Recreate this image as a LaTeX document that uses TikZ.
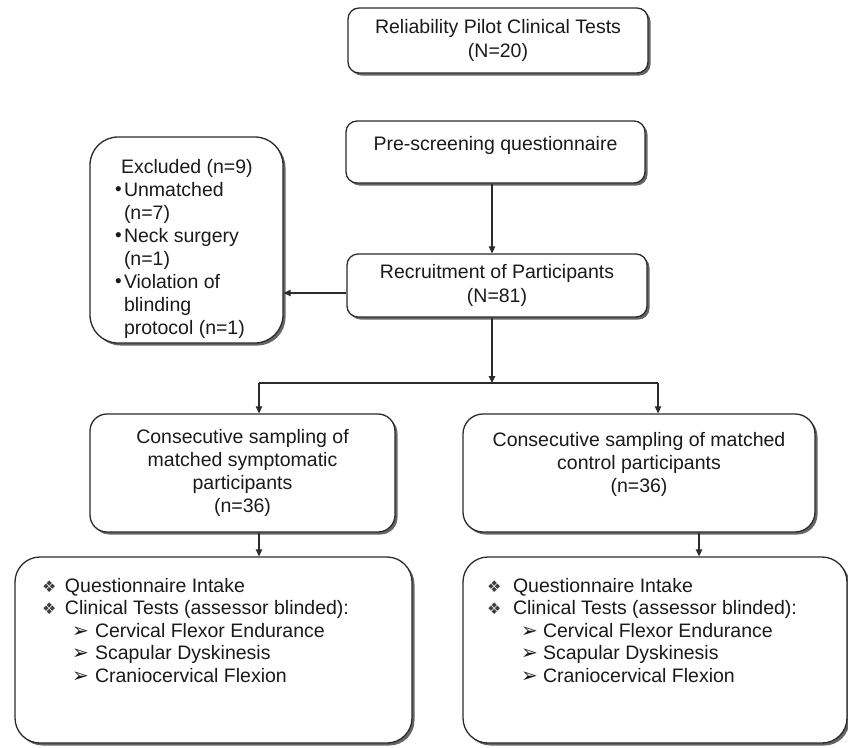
\documentclass[tikz,border=0pt]{standalone}
\usepackage{fontspec}
\setmainfont{Liberation Sans}
\newfontfamily\symfont{DejaVu Sans}
\usetikzlibrary{shadows,arrows.meta}
\definecolor{lncol}{HTML}{2B2B2B}
\definecolor{txcol}{HTML}{1A1A1A}
\newcommand\mydia{{\symfont\fontsize{16}{16}\selectfont\color{black!75}❖}}
\newcommand\myarr{{\symfont\fontsize{20}{20}\selectfont ➢}}
\newcommand\smbul{\raisebox{0.5pt}{\fontsize{19}{19}\selectfont\textbullet}}
\tikzset{
 box/.style={draw=lncol, line width=1.3pt, fill=white, inner sep=0pt, rounded corners=#1,
   drop shadow={shadow xshift=2.5pt, shadow yshift=-2.5pt, fill=black!60, opacity=1},
   font=\fontsize{19.5}{24}\selectfont, text=txcol},
 box/.default=11pt,
 arr/.style={draw=lncol, line width=1.2pt, -{Triangle[length=7pt,width=6.5pt]}},
 plain/.style={draw=lncol, line width=1.2pt}
}
\begin{document}
\begin{tikzpicture}[x=1pt,y=-1pt]
\useasboundingbox (0,0) rectangle (848,747);

\node[box, align=center, minimum width=300pt, minimum height=65pt] (pilot) at (498,40.5)
  {Reliability Pilot Clinical Tests\\(N=20)};

\node[box, minimum width=299pt, minimum height=62pt] (pre) at (495.5,152)
  {\parbox[c][62pt][t]{299pt}{\centering\rule{0pt}{29pt}Pre-screening questionnaire}};

\node[box, align=center, minimum width=300pt, minimum height=63pt] (rec) at (497,285.5)
  {Recruitment of Participants\\(N=81)};

\node[box=28pt, minimum width=193pt, minimum height=206pt] (excl) at (186.5,240)
  {\parbox[c][206pt][t]{193pt}{\fontsize{19.5}{23}\selectfont\raggedright
   \rule{0pt}{36pt}\hspace*{31pt}Excluded (n=9)\\
   \hspace*{25pt}\makebox[9pt][l]{\smbul}Unmatched\\
   \hspace*{34pt}(n=7)\\
   \hspace*{25pt}\makebox[9pt][l]{\smbul}Neck surgery\\
   \hspace*{34pt}(n=1)\\
   \hspace*{25pt}\makebox[9pt][l]{\smbul}Violation of\\
   \hspace*{34pt}blinding\\
   \hspace*{34pt}protocol (n=1)}};

\node[box=17pt, align=center, minimum width=305pt, minimum height=118pt,
  font=\fontsize{19.5}{23}\selectfont] (lft) at (242.5,473)
  {Consecutive sampling of\\matched symptomatic\\participants\\(n=36)};

\node[box=20pt, minimum width=352pt, minimum height=118pt] (rgt) at (639,473)
  {\parbox[c][118pt][t]{352pt}{\fontsize{19.5}{23}\selectfont\centering
   \rule{0pt}{32pt}Consecutive sampling of matched\\control participants\\(n=36)}};

\node[box=25pt, minimum width=397pt, minimum height=186pt] (blft) at (213.5,650)
  {\parbox[c][186pt][t]{397pt}{\fontsize{19.5}{22.5}\selectfont\raggedright
   \rule{0pt}{35pt}\hspace*{27pt}\makebox[23pt][l]{\mydia}Questionnaire Intake\\
   \hspace*{27pt}\makebox[23pt][l]{\mydia}Clinical Tests (assessor blinded):\\
   \hspace*{57pt}\makebox[23pt][l]{\myarr}Cervical Flexor Endurance\\
   \hspace*{57pt}\makebox[23pt][l]{\myarr}Scapular Dyskinesis\\
   \hspace*{57pt}\makebox[23pt][l]{\myarr}Craniocervical Flexion}};

\node[box=25pt, minimum width=384pt, minimum height=186pt] (brgt) at (655,650)
  {\parbox[c][186pt][t]{384pt}{\fontsize{19.5}{22.5}\selectfont\raggedright
   \rule{0pt}{35pt}\hspace*{24pt}\makebox[26pt][l]{\mydia}Questionnaire Intake\\
   \hspace*{24pt}\makebox[26pt][l]{\mydia}Clinical Tests (assessor blinded):\\
   \hspace*{58pt}\makebox[22pt][l]{\myarr}Cervical Flexor Endurance\\
   \hspace*{58pt}\makebox[22pt][l]{\myarr}Scapular Dyskinesis\\
   \hspace*{58pt}\makebox[22pt][l]{\myarr}Craniocervical Flexion}};

\coordinate (split) at (492,383);
\coordinate (sl) at (259,383);
\coordinate (sr) at (658,383);
\coordinate (dr) at (699,532);

\draw[arr] ([xshift=-3.5pt]pre.south) -- ([xshift=-3.5pt]pre.south |- rec.north);
\draw[arr] ([yshift=-7.5pt]rec.west) -- ([yshift=-7.5pt]rec.west -| excl.east);
\draw[arr] (split |- rec.south) -- (split);
\draw[plain] (sl) -- (sr);
\draw[arr] (sl) -- (sl |- lft.north);
\draw[arr] (sr) -- (sr |- rgt.north);
\draw[arr] (sl |- lft.south) -- (sl |- blft.north);
\draw[arr] (dr |- rgt.south) -- (dr |- brgt.north);
\end{tikzpicture}
\end{document}
